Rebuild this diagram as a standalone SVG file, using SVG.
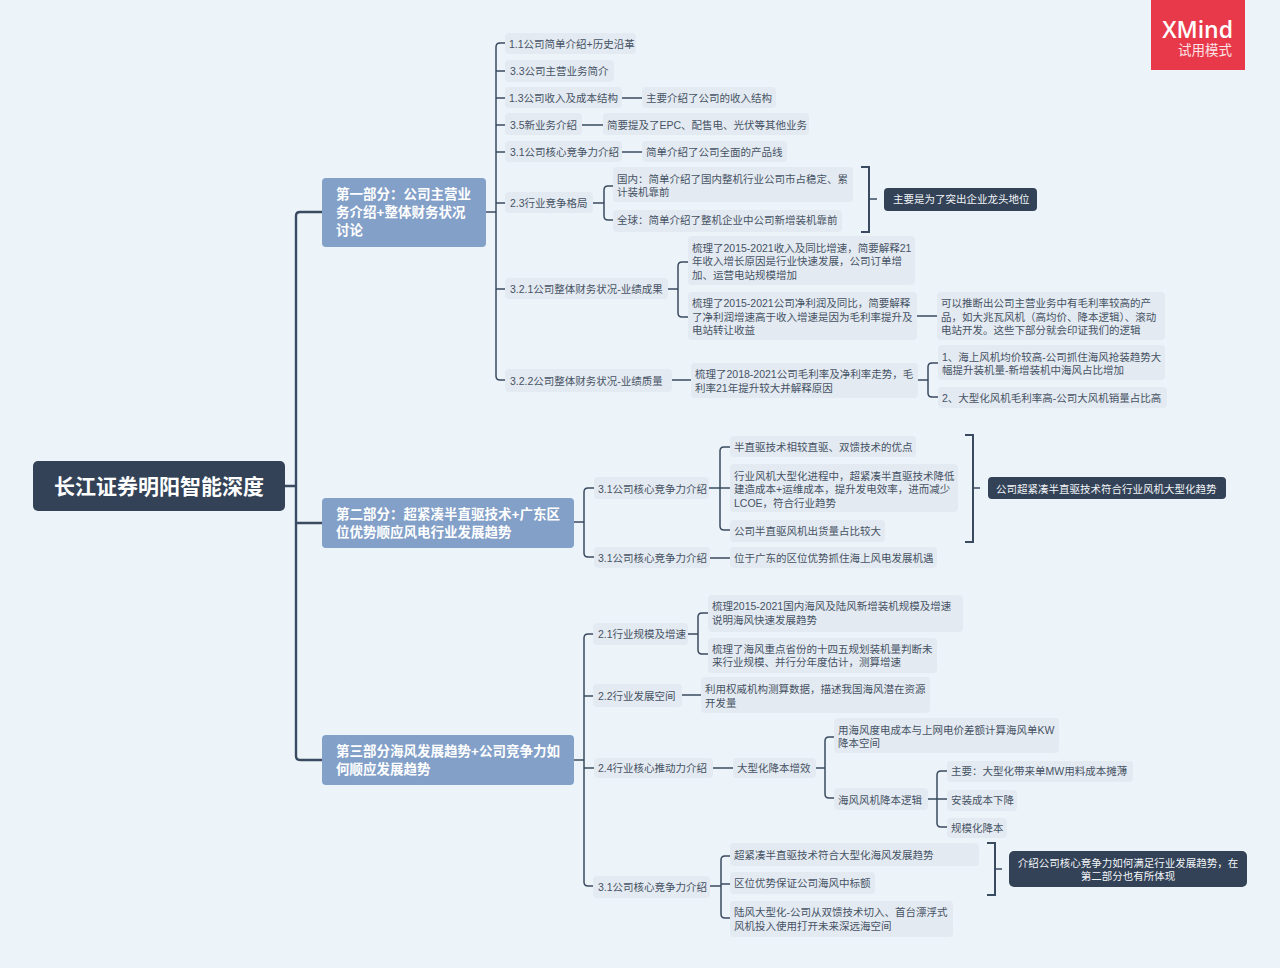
<svg xmlns="http://www.w3.org/2000/svg" width="1280" height="968" viewBox="0 0 1280 968">
<style>
text{font-family:"Liberation Sans","Noto Sans CJK SC",sans-serif;dominant-baseline:central}
.n{fill:#e4eaf1}
.t{font-size:10.5px;fill:#465365}
.d{fill:#334257}
.w{font-size:10.5px;fill:#f2f5f8}
.m{fill:#83a0c8}
.mt{font-size:13.5px;font-weight:700;fill:#fff}
.c{fill:none;stroke:#3a4a60;stroke-width:1.5}
.b{fill:none;stroke:#3a4a60;stroke-width:2}
.c2{fill:none;stroke:#3a4a60;stroke-width:2.4}
</style>
<rect width="1280" height="968" fill="#ecf4f9"/>
<g id="connectors">
<path class="c2" d="M285 486H296M322 212H300Q296 212 296 216V756Q296 760 300 760H322M296 523H322"/>
<path class="c" d="M486 212H496M505 43H500Q496 43 496 47V376Q496 380 500 380H505M496 71H505M496 98H505M496 125H505M496 152H505M496 203H505M496 289H505"/>
<path class="c" d="M622 98H642M582 125H603M622 152H642"/>
<path class="c" d="M593 203H604M613 186H608Q604 186 604 190V216Q604 220 608 220H613"/>
<path class="b" d="M861 167H869V232H861"/><path class="c" d="M869 199H877"/>
<path class="c" d="M668 289H678M688 262H682Q678 262 678 266V313Q678 317 682 317H688M917 316H937"/>
<path class="c" d="M672 380H691M918 380H928M938 363H932Q928 363 928 367V393Q928 397 932 397H938"/>
<path class="c" d="M574 522H584M594 488H588Q584 488 584 492V553Q584 557 588 557H594"/>
<path class="c" d="M709 488H730M730 447H724Q720 447 720 451V526Q720 530 724 530H730M710 558H730"/>
<path class="b" d="M965 435H973V542H965"/><path class="c" d="M973 488H980"/>
<path class="c" d="M574 760H584M593 634H588Q584 634 584 638V882Q584 886 588 886H593M584 696H593M584 768H594"/>
<path class="c" d="M688 634H698M708 613H702Q698 613 698 617V650Q698 654 702 654H708M682 695H701"/>
<path class="c" d="M713 768H733M816 768H825M834 737H829Q825 737 825 741V794Q825 798 829 798H834"/>
<path class="c" d="M928 799H947M947 771H941Q937 771 937 775V823Q937 827 941 827H947"/>
<path class="c" d="M710 886H721M730 856H725Q721 856 721 860V914Q721 918 725 918H730M721 884H730"/>
<path class="b" d="M987 843H995V895H987"/><path class="c" d="M995 869H1002"/>
</g>
<g id="topic"><rect class="d" x="33" y="461" width="252" height="50" rx="5"/><text x="54" y="486" font-size="21px" font-weight="700" fill="#fff">长江证券明阳智能深度</text></g>
<g id="part1"><rect class="m" x="322" y="178" width="164" height="69" rx="4"/><text class="mt" x="336" y="194">第一部分：公司主营业</text><text class="mt" x="336" y="212">务介绍+整体财务状况</text><text class="mt" x="336" y="230">讨论</text></g>
<g id="part2"><rect class="m" x="322" y="498" width="252" height="50" rx="4"/><text class="mt" x="336" y="514">第二部分：超紧凑半直驱技术+广东区</text><text class="mt" x="336" y="532">位优势顺应风电行业发展趋势</text></g>
<g id="part3"><rect class="m" x="322" y="735" width="252" height="50" rx="4"/><text class="mt" x="336" y="751">第三部分海风发展趋势+公司竞争力如</text><text class="mt" x="336" y="769">何顺应发展趋势</text></g>

<g id="n11"><rect class="n" x="505" y="33" width="131" height="21" rx="4"/><text class="t" x="509" y="44">1.1公司简单介绍+历史沿革</text></g>
<g id="n33"><rect class="n" x="505" y="60" width="109" height="22" rx="4"/><text class="t" x="510" y="71">3.3公司主营业务简介</text></g>
<g id="n13"><rect class="n" x="505" y="87" width="117" height="21" rx="4"/><text class="t" x="509" y="98">1.3公司收入及成本结构</text></g>
<g id="n13a"><rect class="n" x="642" y="87" width="134" height="21" rx="4"/><text class="t" x="646" y="98">主要介绍了公司的收入结构</text></g>
<g id="n35"><rect class="n" x="505" y="113" width="77" height="22" rx="4"/><text class="t" x="510" y="125">3.5新业务介绍</text></g>
<g id="n35a"><rect class="n" x="603" y="113" width="206" height="22" rx="4"/><text class="t" x="607" y="125">简要提及了EPC、配售电、光伏等其他业务</text></g>
<g id="n31"><rect class="n" x="505" y="141" width="117" height="21" rx="4"/><text class="t" x="510" y="152">3.1公司核心竞争力介绍</text></g>
<g id="n31a"><rect class="n" x="642" y="141" width="145" height="21" rx="4"/><text class="t" x="646" y="152">简单介绍了公司全面的产品线</text></g>
<g id="n23"><rect class="n" x="505" y="192" width="88" height="21" rx="4"/><text class="t" x="510" y="203">2.3行业竞争格局</text></g>
<g id="n23a"><rect class="n" x="613" y="167" width="240" height="35" rx="4"/><text class="t" x="617" y="179">国内：简单介绍了国内整机行业公司市占稳定、累</text><text class="t" x="617" y="192">计装机靠前</text></g>
<g id="n23b"><rect class="n" x="613" y="210" width="229" height="22" rx="4"/><text class="t" x="617" y="220">全球：简单介绍了整机企业中公司新增装机靠前</text></g>
<g id="s1"><rect class="d" x="884" y="188" width="153" height="23" rx="4"/><text class="w" x="893" y="199">主要是为了突出企业龙头地位</text></g>
<g id="n321"><rect class="n" x="505" y="278" width="163" height="21" rx="4"/><text class="t" x="510" y="289">3.2.1公司整体财务状况-业绩成果</text></g>
<g id="n321a"><rect class="n" x="688" y="236" width="227" height="49" rx="4"/><text class="t" x="692" y="248">梳理了2015-2021收入及同比增速，简要解释21</text><text class="t" x="692" y="261">年收入增长原因是行业快速发展，公司订单增</text><text class="t" x="692" y="275">加、运营电站规模增加</text></g>
<g id="n321b"><rect class="n" x="688" y="292" width="229" height="48" rx="4"/><text class="t" x="692" y="303">梳理了2015-2021公司净利润及同比，简要解释</text><text class="t" x="692" y="317">了净利润增速高于收入增速是因为毛利率提升及</text><text class="t" x="692" y="330">电站转让收益</text></g>
<g id="n321c"><rect class="n" x="937" y="292" width="228" height="48" rx="4"/><text class="t" x="941" y="303">可以推断出公司主营业务中有毛利率较高的产</text><text class="t" x="941" y="317">品，如大兆瓦风机（高均价、降本逻辑）、滚动</text><text class="t" x="941" y="330">电站开发。这些下部分就会印证我们的逻辑</text></g>
<g id="n322"><rect class="n" x="505" y="369" width="167" height="23" rx="4"/><text class="t" x="510" y="381">3.2.2公司整体财务状况-业绩质量</text></g>
<g id="n322a"><rect class="n" x="691" y="363" width="227" height="35" rx="4"/><text class="t" x="695" y="374">梳理了2018-2021公司毛利率及净利率走势，毛</text><text class="t" x="695" y="388">利率21年提升较大并解释原因</text></g>
<g id="n322b"><rect class="n" x="938" y="345" width="227" height="35" rx="4"/><text class="t" x="942" y="357">1、海上风机均价较高-公司抓住海风抢装趋势大</text><text class="t" x="942" y="370">幅提升装机量-新增装机中海风占比增加</text></g>
<g id="n322c"><rect class="n" x="938" y="387" width="229" height="21" rx="4"/><text class="t" x="942" y="398">2、大型化风机毛利率高-公司大风机销量占比高</text></g>

<g id="p2a"><rect class="n" x="594" y="477" width="115" height="22" rx="4"/><text class="t" x="598" y="489">3.1公司核心竞争力介绍</text></g>
<g id="p2a1"><rect class="n" x="730" y="436" width="186" height="21" rx="4"/><text class="t" x="734" y="447">半直驱技术相较直驱、双馈技术的优点</text></g>
<g id="p2a2"><rect class="n" x="730" y="464" width="228" height="48" rx="4"/><text class="t" x="734" y="476">行业风机大型化进程中，超紧凑半直驱技术降低</text><text class="t" x="734" y="489">建造成本+运维成本，提升发电效率，进而减少</text><text class="t" x="734" y="503">LCOE，符合行业趋势</text></g>
<g id="p2a3"><rect class="n" x="730" y="520" width="155" height="22" rx="4"/><text class="t" x="734" y="531">公司半直驱风机出货量占比较大</text></g>
<g id="p2s"><rect class="d" x="988" y="477" width="238" height="22" rx="4"/><text class="w" x="996" y="489">公司超紧凑半直驱技术符合行业风机大型化趋势</text></g>
<g id="p2b"><rect class="n" x="594" y="547" width="116" height="21" rx="4"/><text class="t" x="598" y="558">3.1公司核心竞争力介绍</text></g>
<g id="p2b1"><rect class="n" x="730" y="547" width="207" height="21" rx="4"/><text class="t" x="734" y="558">位于广东的区位优势抓住海上风电发展机遇</text></g>

<g id="p3a"><rect class="n" x="593" y="623" width="95" height="22" rx="4"/><text class="t" x="598" y="634">2.1行业规模及增速</text></g>
<g id="p3a1"><rect class="n" x="708" y="595" width="255" height="37" rx="4"/><text class="t" x="712" y="606">梳理2015-2021国内海风及陆风新增装机规模及增速</text><text class="t" x="712" y="620">说明海风快速发展趋势</text></g>
<g id="p3a2"><rect class="n" x="708" y="638" width="229" height="35" rx="4"/><text class="t" x="712" y="649">梳理了海风重点省份的十四五规划装机量判断未</text><text class="t" x="712" y="662">来行业规模、并行分年度估计，测算增速</text></g>
<g id="p3b"><rect class="n" x="593" y="684" width="89" height="23" rx="4"/><text class="t" x="598" y="696">2.2行业发展空间</text></g>
<g id="p3b1"><rect class="n" x="701" y="677" width="229" height="36" rx="4"/><text class="t" x="705" y="689">利用权威机构测算数据，描述我国海风潜在资源</text><text class="t" x="705" y="703">开发量</text></g>
<g id="p3c"><rect class="n" x="594" y="758" width="119" height="20" rx="4"/><text class="t" x="598" y="768">2.4行业核心推动力介绍</text></g>
<g id="p3c1"><rect class="n" x="733" y="758" width="83" height="20" rx="4"/><text class="t" x="737" y="768">大型化降本增效</text></g>
<g id="p3c2"><rect class="n" x="834" y="718" width="225" height="35" rx="4"/><text class="t" x="838" y="730">用海风度电成本与上网电价差额计算海风单KW</text><text class="t" x="838" y="743">降本空间</text></g>
<g id="p3c3"><rect class="n" x="834" y="788" width="94" height="22" rx="4"/><text class="t" x="838" y="800">海风风机降本逻辑</text></g>
<g id="p3c4"><rect class="n" x="947" y="761" width="186" height="21" rx="4"/><text class="t" x="951" y="771">主要：大型化带来单MW用料成本摊薄</text></g>
<g id="p3c5"><rect class="n" x="947" y="790" width="70" height="21" rx="4"/><text class="t" x="951" y="800">安装成本下降</text></g>
<g id="p3c6"><rect class="n" x="947" y="818" width="60" height="20" rx="4"/><text class="t" x="951" y="828">规模化降本</text></g>
<g id="p3d"><rect class="n" x="593" y="876" width="117" height="22" rx="4"/><text class="t" x="598" y="887">3.1公司核心竞争力介绍</text></g>
<g id="p3d1"><rect class="n" x="730" y="843" width="249" height="23" rx="4"/><text class="t" x="734" y="855">超紧凑半直驱技术符合大型化海风发展趋势</text></g>
<g id="p3d2"><rect class="n" x="730" y="872" width="145" height="22" rx="4"/><text class="t" x="734" y="883">区位优势保证公司海风中标额</text></g>
<g id="p3d3"><rect class="n" x="730" y="901" width="223" height="36" rx="4"/><text class="t" x="734" y="912">陆风大型化-公司从双馈技术切入、首台漂浮式</text><text class="t" x="734" y="926">风机投入使用打开未来深远海空间</text></g>
<g id="p3s"><rect class="d" x="1009" y="851" width="238" height="36" rx="5"/><text class="w" x="1128" y="863" text-anchor="middle">介绍公司核心竞争力如何满足行业发展趋势，在</text><text class="w" x="1128" y="876" text-anchor="middle">第二部分也有所体现</text></g>

<g id="logo"><rect x="1151" y="0" width="94" height="70" fill="#e8394a"/><text x="1233" y="29" text-anchor="end" font-size="23px" font-weight="600" fill="#fff" style="font-family:'Open Sans',sans-serif">XMind</text><text x="1232" y="50" text-anchor="end" font-size="13.5px" fill="#fbe4e6">试用模式</text></g>
</svg>
